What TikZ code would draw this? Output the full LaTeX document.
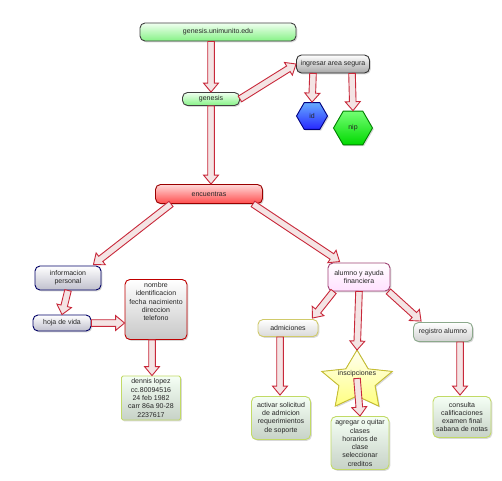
\documentclass[tikz,border=0pt]{standalone}
\usepackage{fontspec}
\setmainfont{Liberation Sans}
\usetikzlibrary{calc,shapes.geometric,shadows}
\definecolor{arrred}{HTML}{C8283A}
\definecolor{arrfill}{HTML}{F4E4E4}
\newcommand{\fatarr}[2]{%
 \draw[fatarrow] let \p1=(#1), \p2=(#2), \n1={atan2(\y2-\y1,\x2-\x1)}, \n2={veclen(\x2-\x1,\y2-\y1)-9} in
 ($(\p1)+(\n1+90:3.3pt)$) -- ($(\p1)+(\n1:\n2)+(\n1+90:3.3pt)$) -- ($(\p1)+(\n1:\n2)+(\n1+90:7.5pt)$) -- (\p2) -- ($(\p1)+(\n1:\n2)+(\n1-90:7.5pt)$) -- ($(\p1)+(\n1:\n2)+(\n1-90:3.3pt)$) -- ($(\p1)+(\n1-90:3.3pt)$) -- cycle;}
\tikzset{
 fatarrow/.style={draw=arrred, fill=arrfill, line width=0.9pt, line join=miter},
 txt/.style={font=\fontsize{7}{8.3}\selectfont, text=black!85},
 box/.style={rounded corners=5pt, draw, line width=0.9pt, align=center, txt, inner sep=2pt,
   drop shadow={shadow xshift=1.3pt, shadow yshift=-1.3pt, fill=black!30}},
 greenbox/.style={box, top color=green!6, bottom color=green!45!white!95!black, draw=black!75},
 graybox/.style={box, top color=white, bottom color=black!35, draw=black!80},
 redbox/.style={box, top color=red!15, bottom color=red!70, draw=red!60!black},
 lavbox/.style={box, top color=white, bottom color=blue!20!black!25, draw=blue!40!black},
 nombrebox/.style={box, top color=white, bottom color=black!22, draw=red!75!black},
 leafbox/.style={box, top color=green!4, bottom color=green!20!black!22, draw=green!40!black!40!yellow!60},
 alumbox/.style={box, top color=white, bottom color=magenta!12, draw=magenta!60!black},
 admbox/.style={box, top color=white, bottom color=black!15, draw=yellow!70!black!70},
 regbox/.style={box, top color=white, bottom color=black!18, draw=green!25!black!45},
 hexbox/.style={regular polygon, regular polygon sides=6, draw, line width=0.9pt, inner sep=0pt, txt,
   drop shadow={shadow xshift=1.3pt, shadow yshift=-1.3pt, fill=black!30}},
 starstyle/.style={draw=yellow!75!black, line width=0.9pt, top color=yellow!5, bottom color=yellow!50,
   drop shadow={shadow xshift=1.3pt, shadow yshift=-1.3pt, fill=black!30}}
}
\begin{document}
\begin{tikzpicture}[x=1pt,y=-1pt]
\useasboundingbox (0,0) rectangle (502,480);
\fill[white] (0,0) rectangle (502,480);
% nodes
\node[greenbox, minimum width=156pt, minimum height=18pt] (gu) at (218,32) {genesis.unimunito.edu};
\node[greenbox, minimum width=57pt, minimum height=13pt] (gen) at (211,99) {genesis};
\node[graybox, minimum width=73pt, minimum height=18pt] (ing) at (333,64) {ingresar area segura};
\node[hexbox, top color=blue!55!cyan!60, bottom color=blue!85, draw=blue!50!black, minimum size=31pt] (id) at (312,116) {id};
\node[hexbox, top color=green!55, bottom color=green!85!black, draw=green!50!black, minimum size=39pt] (nip) at (353,128) {nip};
\node[redbox, minimum width=107pt, minimum height=19pt] (enc) at (209,194) {encuentras};
\node[lavbox, minimum width=66pt, minimum height=24pt] (info) at (68,278) {informacion\\personal};
\node[lavbox, minimum width=58pt, minimum height=16pt] (hoja) at (62,323) {hoja de vida};
\node[nombrebox, anchor=north, text width=56pt, text depth=49pt, inner sep=3pt] (nom) at (156,279) {nombre\\identificacion\\fecha nacimiento\\direccion\\telefono};
\node[leafbox, rounded corners=1.5pt, minimum width=59pt, minimum height=44pt] (den) at (151,398) {dennis lopez\\cc.80094516\\24 feb 1982\\carr 86a 90-28\\2237617};
\node[alumbox, minimum width=62pt, minimum height=28pt] (alu) at (359,277) {alumno y ayuda\\financiera};
\node[admbox, minimum width=60pt, minimum height=17pt] (adm) at (288,328) {admiciones};
\node[regbox, minimum width=59pt, minimum height=19pt] (reg) at (443,332) {registro alumno};
\node[leafbox, minimum width=59pt, minimum height=43pt] (act) at (281,418) {activar solicitud\\de admicion\\requerimientos\\de soporte};
\node[leafbox, minimum width=58pt, minimum height=53pt] (agr) at (360,443) {agregar o quitar\\clases\\horarios de\\clase\\seleccionar\\creditos};
\node[leafbox, minimum width=58pt, minimum height=41pt] (con) at (462,417) {consulta\\calificaciones\\examen final\\sabana de notas};
% star (y axis points down, so angles run clockwise)
\coordinate (sc) at (357,381);
\coordinate (stop) at ($(sc)+(270:37 and 31)$);
\filldraw[starstyle] (stop)
 -- ($(sc)+(234:19 and 15)$) -- ($(sc)+(198:37 and 31)$)
 -- ($(sc)+(162:19 and 15)$) -- ($(sc)+(126:37 and 31)$)
 -- ($(sc)+(90:19 and 15)$) -- ($(sc)+(54:37 and 31)$)
 -- ($(sc)+(18:19 and 15)$) -- ($(sc)+(342:37 and 31)$)
 -- ($(sc)+(306:19 and 15)$) -- cycle;
\node[txt, inner sep=1pt] (ins) at (357,374) {inscipciones};
% arrows
\fatarr{gu.south -| gen.north}{gen.north}
\fatarr{gen.south}{gen.south |- enc.north}
\fatarr{gen.east}{ing.west}
\fatarr{$(ing.south)+(-20,0)$}{id.north}
\fatarr{$(ing.south)+(19,0)$}{nip.north}
\fatarr{$(enc.south west)+(16,0)$}{$(info.north east)+(-8,-1)$}
\fatarr{$(enc.south east)+(-10,0)$}{$(alu.north west)+(12,-1)$}
\fatarr{info.south}{hoja.north}
\fatarr{hoja.east}{hoja.east -| nom.west}
\fatarr{$(nom.south)+(-4,0)$}{$(den.north)+(1,0)$}
\fatarr{$(alu.south west)+(6,0)$}{$(adm.north east)+(-6,-1)$}
\fatarr{alu.south}{stop}
\fatarr{$(alu.south east)+(-2,0)$}{$(reg.north west)+(8,-1)$}
\fatarr{$(adm.south)+(-8,0)$}{$(act.north)+(-1,-1)$}
\fatarr{ins.south}{agr.north}
\fatarr{$(reg.south)+(17,0)$}{$(con.north)+(-2,-1)$}
\end{tikzpicture}
\end{document}
